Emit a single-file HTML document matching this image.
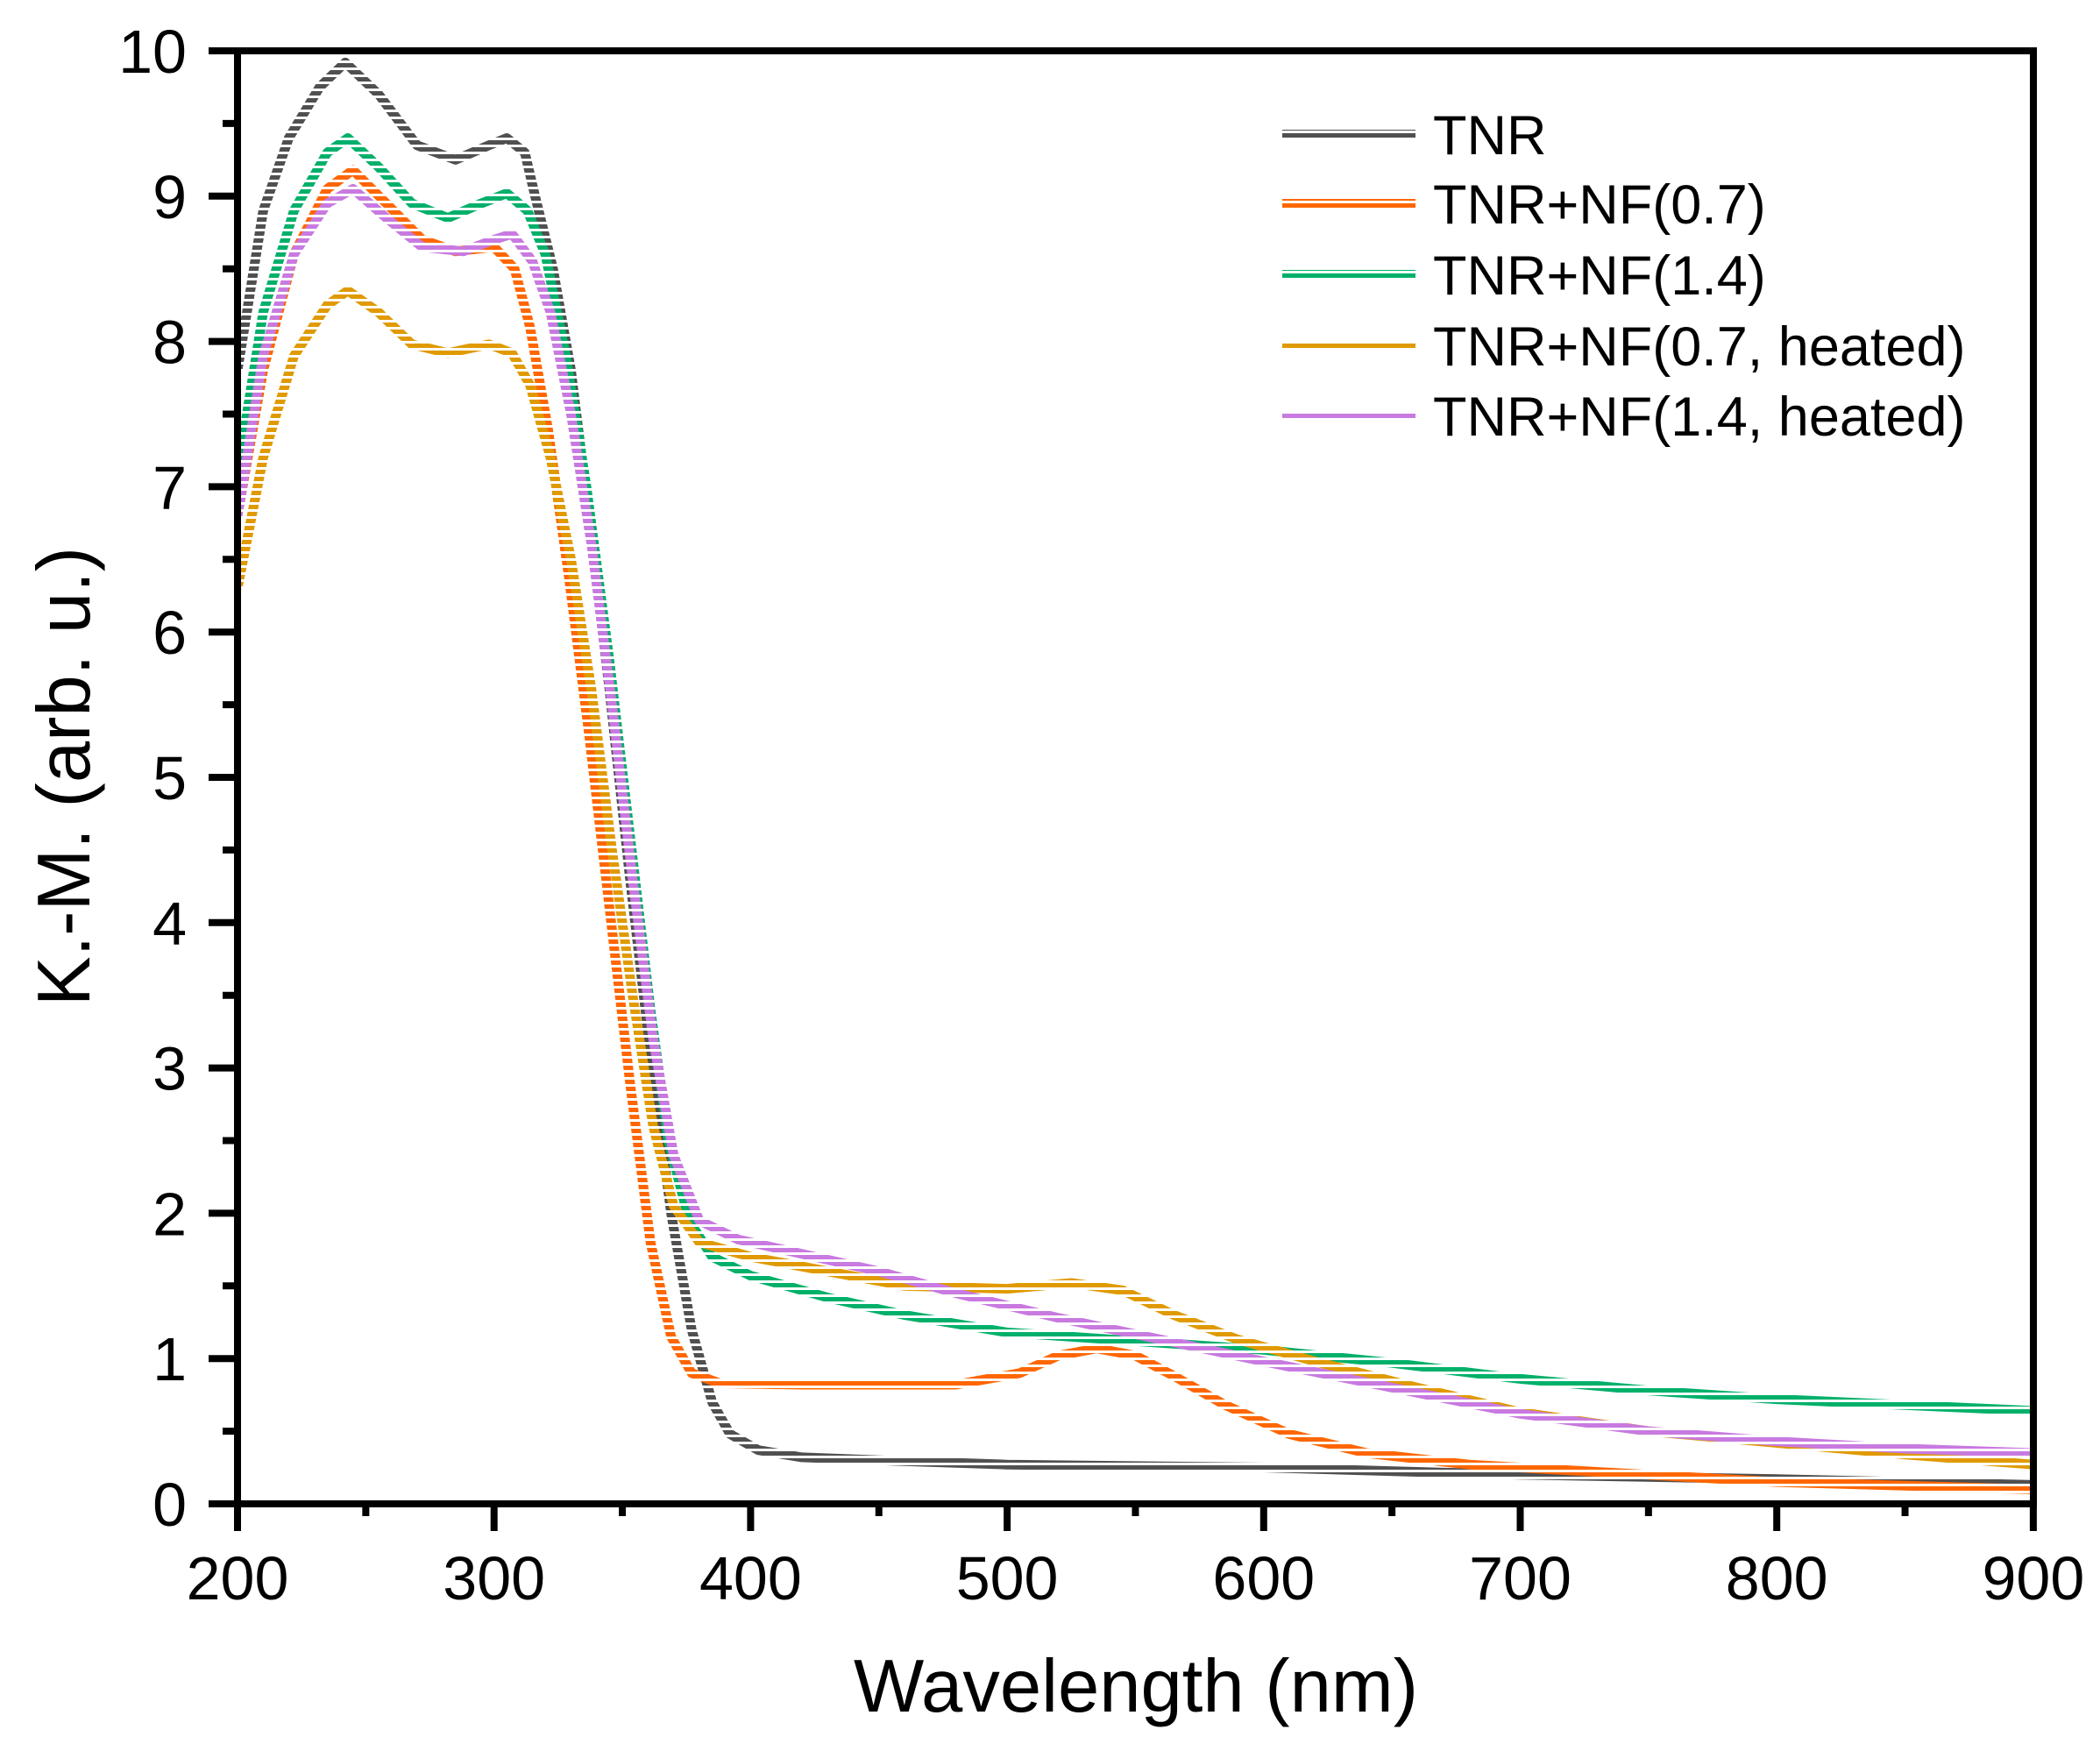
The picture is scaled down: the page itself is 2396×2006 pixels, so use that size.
<!DOCTYPE html>
<html><head><meta charset="utf-8"><style>
html,body{margin:0;padding:0;background:#fff;}
svg{display:block;font-family:"Liberation Sans",Arial,sans-serif;}
</style></head><body>
<svg id="s" width="2396" height="2006" viewBox="0 0 2396 2006" xmlns="http://www.w3.org/2000/svg">
<defs>
<pattern id="p0" patternUnits="userSpaceOnUse" width="8" height="8"><rect width="8" height="5" fill="#505050"/></pattern>
<pattern id="p1" patternUnits="userSpaceOnUse" width="8" height="8"><rect width="8" height="5" fill="#ff6600"/></pattern>
<pattern id="p2" patternUnits="userSpaceOnUse" width="8" height="8"><rect width="8" height="5" fill="#00b06a"/></pattern>
<pattern id="p3" patternUnits="userSpaceOnUse" width="8" height="8"><rect width="8" height="5" fill="#e09a00"/></pattern>
<pattern id="p4" patternUnits="userSpaceOnUse" width="8" height="8"><rect width="8" height="5" fill="#c87ae0"/></pattern>
<clipPath id="c"><rect x="271" y="58" width="2049" height="1658"/></clipPath>
</defs>
<g id="curves" clip-path="url(#c)" fill="none" stroke-width="11" stroke-linejoin="round"></g>
<g stroke="#000" stroke-width="8" fill="none">
<rect x="271" y="58" width="2049" height="1658"/>
<path id="ticks" d=""/>
</g>
<g id="labels" font-size="70" fill="#000"></g>
<text x="1296" y="1953" font-size="85" text-anchor="middle">Wavelength (nm)</text>
<text transform="translate(102,886) rotate(-90)" font-size="85" text-anchor="middle">K.-M. (arb. u.)</text>
<g font-size="63">
<line x1="1463" y1="153" x2="1615" y2="153" stroke="url(#p0)" stroke-width="10"/>
<text x="1635" y="176">TNR</text>
<line x1="1463" y1="232" x2="1615" y2="232" stroke="url(#p1)" stroke-width="10"/>
<text x="1635" y="255">TNR+NF(0.7)</text>
<line x1="1463" y1="313" x2="1615" y2="313" stroke="url(#p2)" stroke-width="10"/>
<text x="1635" y="336">TNR+NF(1.4)</text>
<line x1="1463" y1="394" x2="1615" y2="394" stroke="url(#p3)" stroke-width="10"/>
<text x="1635" y="417">TNR+NF(0.7, heated)</text>
<line x1="1463" y1="474" x2="1615" y2="474" stroke="url(#p4)" stroke-width="10"/>
<text x="1635" y="497">TNR+NF(1.4, heated)</text>
</g>
</svg>
<script>
var X=function(n){return 271+(n-200)*2.927;},Y=function(v){return 1716-v*165.8;};
var data=[
[[200,7.8],[210,8.9],[220,9.4],[232,9.75],[242,9.92],[255,9.7],[270,9.35],[285,9.25],[298,9.35],[305,9.4],[312,9.3],[316,9.0],[323,8.5],[330,7.8],[337,6.8],[345,5.6],[353,4.3],[361,3.1],[369,2.0],[377,1.2],[385,0.7],[392,0.48],[403,0.37],[420,0.32],[450,0.3],[500,0.27],[600,0.25],[700,0.2],[800,0.17],[900,0.13]],
[[200,6.8],[210,7.8],[222,8.6],[235,9.05],[245,9.18],[258,8.95],[272,8.7],[285,8.62],[300,8.65],[308,8.5],[314,8.1],[321,7.4],[329,6.4],[337,5.3],[345,4.1],[353,2.9],[361,1.8],[369,1.15],[377,0.9],[388,0.83],[420,0.82],[480,0.82],[505,0.9],[520,1.02],[535,1.07],[550,1.02],[565,0.88],[585,0.68],[610,0.48],[640,0.35],[680,0.27],[720,0.23],[800,0.15],[900,0.1]],
[[200,7.1],[210,8.2],[222,8.9],[235,9.3],[243,9.4],[255,9.2],[268,8.95],[282,8.85],[295,8.95],[305,9.02],[313,8.9],[320,8.6],[328,7.9],[336,7.0],[345,5.8],[353,4.6],[361,3.4],[368,2.5],[376,1.95],[385,1.7],[400,1.57],[430,1.42],[460,1.3],[500,1.18],[550,1.12],[600,1.06],[650,0.97],[700,0.86],[750,0.78],[800,0.72],[900,0.64]],
[[200,6.3],[210,7.2],[222,7.9],[235,8.25],[243,8.35],[255,8.2],[268,7.98],[282,7.92],[298,7.98],[307,7.92],[314,7.7],[322,7.2],[330,6.5],[338,5.6],[346,4.5],[354,3.5],[362,2.6],[370,2.05],[380,1.8],[400,1.7],[430,1.6],[460,1.5],[500,1.48],[525,1.52],[545,1.47],[565,1.3],[590,1.13],[620,0.98],[660,0.8],[700,0.63],[750,0.5],[800,0.42],[850,0.34],[900,0.27]],
[[200,6.8],[210,7.9],[222,8.6],[235,8.95],[245,9.05],[258,8.85],[272,8.65],[288,8.62],[300,8.7],[307,8.74],[315,8.55],[322,8.2],[330,7.5],[338,6.6],[346,5.5],[354,4.3],[362,3.2],[370,2.4],[380,1.95],[395,1.82],[420,1.72],[450,1.6],[480,1.45],[520,1.28],[560,1.13],[600,0.98],[650,0.8],[700,0.62],[750,0.5],[800,0.43],[850,0.38],[900,0.35]]
];
var ns="http://www.w3.org/2000/svg",g=document.getElementById("curves");
data.forEach(function(s,i){var p=document.createElementNS(ns,"polyline");
p.setAttribute("points",s.map(function(a){return X(a[0]).toFixed(1)+","+Y(a[1]).toFixed(1);}).join(" "));
p.setAttribute("stroke","url(#p"+i+")");p.setAttribute("fill","none");p.setAttribute("stroke-width","11");g.appendChild(p);});
var d="",L=document.getElementById("labels"),h="";
for(var n=200;n<=900;n+=50){var x=X(n);d+="M"+x+",1716V"+(n%100==0?1747:1730);
 if(n%100==0)h+='<text x="'+x+'" y="1825" text-anchor="middle">'+n+'</text>';}
for(var v=0;v<=10;v+=0.5){var y=Y(v);d+="M271,"+y+"H"+(v%1==0?238:254);
 if(v%1==0)h+='<text x="213" y="'+(y+25)+'" text-anchor="end">'+v+'</text>';}
document.getElementById("ticks").setAttribute("d",d);L.innerHTML=h;
</script>
</body></html>
